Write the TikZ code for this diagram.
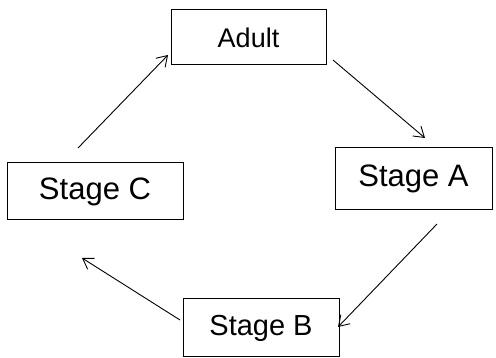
\documentclass[tikz,border=0pt]{standalone}
\usepackage{fontspec}
\setmainfont{Liberation Sans}
\usetikzlibrary{arrows.meta}
\begin{document}
\begin{tikzpicture}[x=1pt,y=-1pt,
  box/.style={draw,line width=1pt,inner sep=0pt},
  big/.style={font=\fontsize{31}{34}\selectfont},
  arr/.style={line width=0.9pt,-{Straight Barb[length=10pt,width=13pt]}}]
\useasboundingbox (0,0) rectangle (496,358);
\node[box,font=\fontsize{27}{30}\selectfont,minimum width=155pt,minimum height=55pt] (adult) at (248.5,37.5) {Adult};
\node[box,big,minimum width=157pt,minimum height=62pt] (a) at (413.5,179) {Stage A};
\node[box,font=\fontsize{29}{32}\selectfont,minimum width=156pt,minimum height=58pt] (b) at (261,328) {Stage B};
\node[box,big,minimum width=176pt,minimum height=57pt] (c) at (95,191.5) {Stage C};
\coordinate (a1) at (333,60); \coordinate (a2) at (425,138);
\coordinate (b1) at (437,224); \coordinate (b2) at (338,327);
\coordinate (c1) at (180,320); \coordinate (c2) at (82,258);
\coordinate (d1) at (78,148); \coordinate (d2) at (168,55);
\draw[arr] (a1) -- (a2);
\draw[arr] (b1) -- (b2);
\draw[arr] (c1) -- (c2);
\draw[arr] (d1) -- (d2);
\end{tikzpicture}
\end{document}
